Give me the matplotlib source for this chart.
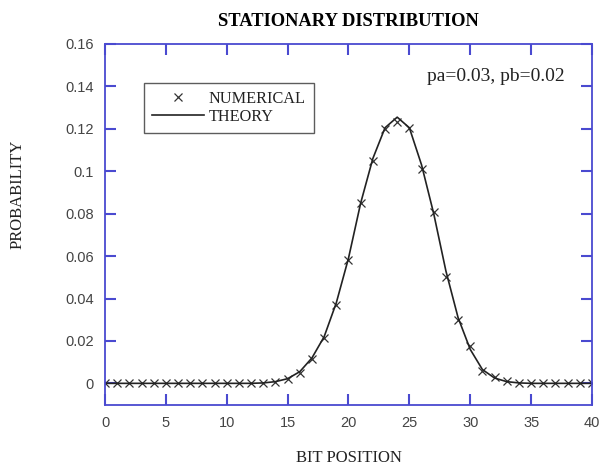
import numpy as np
import matplotlib.pyplot as plt

# datos
bits = np.arange(0, 41)
numerico = [0, 0, 0, 0, 0, 0, 0, 0, 0, 0,
             0, 0, 0, 0, 0.0005, 0.002, 0.0047, 0.0116, 0.0214, 0.037,
             0.058, 0.085, 0.105, 0.120, 0.123, 0.1205, 0.101, 0.081, 0.050, 0.030,
             0.0175, 0.006, 0.0028, 0.0012, 0, 0, 0, 0, 0, 0,
             0]
teoria = [0, 0, 0, 0, 0, 0, 0, 0, 0, 0,
          0, 0, 0, 0.0002, 0.0008, 0.0022, 0.0055, 0.012, 0.022, 0.038,
          0.059, 0.085, 0.106, 0.1205, 0.1255, 0.1205, 0.103, 0.080, 0.053, 0.031,
          0.016, 0.0065, 0.0025, 0.0008, 0.0002, 0, 0, 0, 0, 0,
          0]

azul = '#4a4ad0'
serif = 'Liberation Serif'
sans = 'Liberation Sans'

fig = plt.figure(figsize=(5.99, 4.69), dpi=100)
ax = fig.add_axes([0.1753, 0.1365, 0.8130, 0.7697])

ax.plot(bits, numerico, 'x', color='#333333', markersize=5.5, markeredgewidth=0.9,
        label='NUMERICAL')
ax.plot(bits, teoria, '-', color='#222222', linewidth=1.2, label='THEORY')

ax.set_xlim(0, 40)
ax.set_ylim(-0.0102, 0.16)
ax.set_xticks(np.arange(0, 41, 5))
ax.set_yticks(np.arange(0, 0.161, 0.02))
ax.set_yticklabels(['0', '0.02', '0.04', '0.06', '0.08', '0.1', '0.12', '0.14', '0.16'])

for s in ax.spines.values():
    s.set_color(azul)
    s.set_linewidth(1.3)
ax.tick_params(direction='in', length=8, width=1.5, color=azul, top=True, right=True,
               labelcolor='#444444', labelsize=10.5, pad=8)
for lbl in ax.get_xticklabels() + ax.get_yticklabels():
    lbl.set_family(sans)

ax.set_title('STATIONARY DISTRIBUTION', family=serif, fontweight='bold', fontsize=13.3,
             pad=13)
ax.set_xlabel('BIT POSITION', family=serif, fontsize=12, color='#222222', labelpad=14)
ax.set_ylabel('PROBABILITY', family=serif, fontsize=12, color='#222222')
ax.yaxis.set_label_coords(-0.163, 0.584)

ax.text(0.9446, 0.909, 'pa=0.03, pb=0.02', transform=ax.transAxes, family=serif,
        fontsize=14, ha='right', va='center', color='#222222')

leg = ax.legend(loc='upper left', bbox_to_anchor=(0.08, 0.892), prop={'family': serif, 'size': 11.7},
                frameon=True, fancybox=False, handlelength=3.2, handletextpad=0.3,
                borderpad=0.5, labelspacing=0.1, borderaxespad=0)
leg.get_frame().set_edgecolor('#333333')
leg.get_frame().set_linewidth(1.0)
for t in leg.get_texts():
    t.set_color('#222222')

fig.savefig('out.png', dpi=100)
